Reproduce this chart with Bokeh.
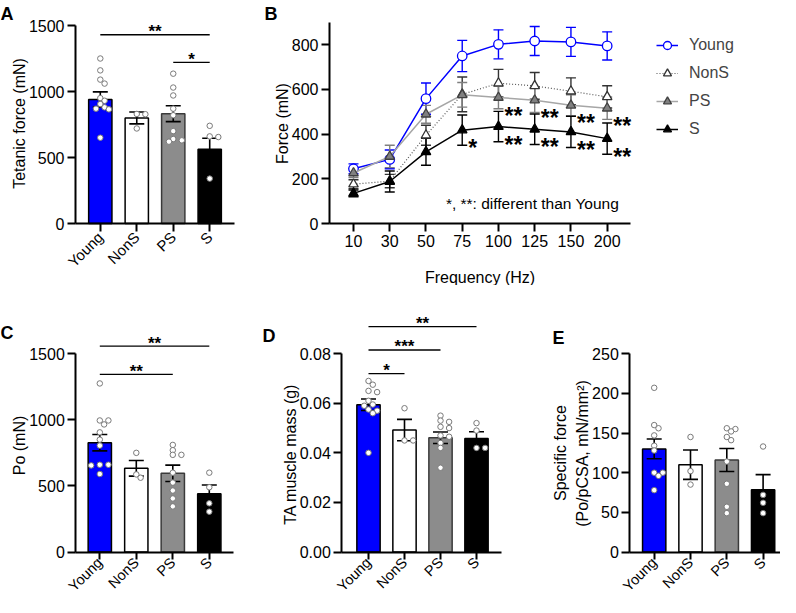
import math
from bokeh.plotting import figure
from bokeh.models import Range1d, FixedTicker, Legend, LegendItem, NumeralTickFormatter
from bokeh.layouts import row, column
from bokeh.embed import file_html
from bokeh.resources import INLINE
from bokeh.core.properties import value

FONT = "Liberation Sans"
GROUPS = ["Young", "NonS", "PS", "S"]
BAR_FILL = ["#0000FF", "#FFFFFF", "#8C8C8C", "#000000"]
BAR_LINE = ["#000000", "#000000", "#3A3A3A", "#000000"]

# ---------------- Panel A: tetanic force ----------------
A_mean = [940, 800, 832, 563]
A_sem = [57, 45, 60, 83]
A_pts = [
    [1250, 1160, 1090, 1060, 950, 930, 905, 880, 870, 865, 650],
    [830, 828, 720],
    [1135, 1030, 970, 870, 820, 700, 640, 630, 620],
    [740, 660, 655, 340],
]
A_sig = [(0, 3, 1430, "**"), (2, 3, 1220, "*")]
A_yticks = [0, 500, 1000, 1500]
A_ylabel = "Tetanic force (mN)"

# ---------------- Panel B: force-frequency ----------------
B_freq = ["10", "30", "50", "75", "100", "125", "150", "200"]
B_young = [245, 287, 559, 750, 802, 817, 813, 795]
B_young_sem = [22, 42, 70, 70, 65, 65, 65, 63]
B_nons = [176, 190, 395, 578, 628, 616, 592, 567]
B_nons_sem = [20, 30, 45, 78, 62, 60, 60, 50]
B_ps = [226, 300, 489, 576, 564, 552, 529, 516]
B_ps_sem = [20, 50, 40, 55, 50, 55, 47, 50]
B_s = [135, 188, 321, 418, 434, 422, 410, 380]
B_s_sem = [15, 47, 60, 68, 68, 68, 70, 70]
B_yticks = [0, 200, 400, 600, 800]
B_sig = [("S", 3, "*"), ("PS", 4, "**"), ("PS", 5, "**"), ("PS", 6, "**"), ("PS", 7, "**"),
         ("S", 4, "**"), ("S", 5, "**"), ("S", 6, "**"), ("S", 7, "**")]
B_note = "*, **: different than Young"
B_ylabel = "Force (mN)"
B_xlabel = "Frequency (Hz)"

# ---------------- Panel C: Po ----------------
C_mean = [827, 633, 595, 441]
C_sem = [62, 59, 62, 66]
C_pts = [
    [1275, 995, 995, 965, 905, 850, 805, 660, 660, 655, 590],
    [750, 587, 562],
    [810, 770, 735, 735, 600, 525, 465, 405, 345],
    [600, 490, 368, 305],
]
C_sig = [(0, 3, 1558, "**"), (0, 2, 1344, "**")]
C_yticks = [0, 500, 1000, 1500]
C_ylabel = "Po (mN)"

# ---------------- Panel D: TA mass ----------------
D_mean = [0.0594, 0.0492, 0.0461, 0.0458]
D_sem = [0.0023, 0.0043, 0.0023, 0.0027]
D_pts = [
    [0.069, 0.0675, 0.065, 0.0645, 0.061, 0.0595, 0.059, 0.0575, 0.057, 0.056, 0.040],
    [0.058, 0.045, 0.045],
    [0.055, 0.053, 0.0525, 0.0505, 0.050, 0.047, 0.0465, 0.044, 0.042, 0.034],
    [0.052, 0.049, 0.042, 0.042],
]
D_sig = [(0, 3, 0.0909, "**"), (0, 2, 0.0815, "***"), (0, 1, 0.072, "*")]
D_yticks = [0, 0.02, 0.04, 0.06, 0.08]
D_ylabel = "TA muscle mass (g)"

# ---------------- Panel E: specific force ----------------
E_mean = [130, 110, 116, 78.5]
E_sem = [12.5, 18.5, 14.5, 19]
E_pts = [
    [207, 160, 156, 147, 134, 128, 100, 100, 96, 78],
    [145, 102, 85],
    [155, 156, 152, 141, 145, 114, 86, 57, 49],
    [133, 72, 62, 49],
]
E_sig = []
E_yticks = [0, 50, 100, 150, 200, 250]
E_ylabel = ["Specific force", "(Po/pCSA, mN/mm\u00b2)"]


class Frame:
    """Maps page pixels to data units for one figure (layout helper)."""
    def __init__(self, fx, fy, w, h, x0px, xs, y0px, ys):
        self.fx, self.fy, self.w, self.h = fx, fy, w, h
        self.x0px, self.xs, self.y0px, self.ys = x0px, xs, y0px, ys

    def X(self, px):
        return (px - self.x0px) / self.xs

    def Y(self, py):
        return (self.y0px - py) / self.ys

    def figure(self):
        p = figure(width=self.w, height=self.h, min_border=0,
                   x_range=Range1d(self.X(self.fx), self.X(self.fx + self.w)),
                   y_range=Range1d(self.Y(self.fy + self.h), self.Y(self.fy)),
                   toolbar_location=None, output_backend="svg", tools="")
        p.grid.visible = False
        p.outline_line_color = None
        return p


def swarm(vals, px_y, px_x, step=4.3, dist=4.6):
    order = sorted(range(len(vals)), key=lambda i: -vals[i])
    placed = []
    offs = [0.0] * len(vals)
    cands = [0.0]
    for m in range(1, 6):
        cands += [m * step, -m * step]
    for i in order:
        y = vals[i] * px_y
        chosen = cands[-1]
        for c in cands:
            if all((c - qx) ** 2 + (y - qy) ** 2 >= dist ** 2 for qx, qy in placed):
                chosen = c
                break
        placed.append((chosen, y))
        offs[i] = chosen / px_x
    return offs


def style_axes(p):
    for ax in p.axis:
        ax.axis_line_width = 2
        ax.axis_line_color = "black"
        ax.major_tick_line_width = 2
        ax.major_tick_line_color = "black"
        ax.major_tick_out = 8
        ax.major_tick_in = 0
        ax.minor_tick_line_color = None
        ax.major_label_text_font = FONT
        ax.major_label_text_font_size = "16px"
        ax.major_label_text_color = "black"
        ax.major_label_standoff = 3


def put_text(p, fr, txt, px, py, size="16px", bold=False, angle=0.0, align="center", baseline="middle"):
    p.text(x=[fr.X(px)], y=[fr.Y(py)], text=[txt], angle=angle, text_align=align,
           text_baseline=baseline, text_font=value(FONT), text_font_size=size,
           text_font_style="bold" if bold else "normal", text_color="black")


def bar_panel(fr, ax_left, ax_right, means, sems, pts, sig, yticks, ytop,
              letter, letter_xy, ylabels, fmt=None, xlab_size="15px", xlab_standoff=3, tick_out=8):
    p = fr.figure()
    xs = list(range(len(GROUPS)))
    p.vbar(x=xs, top=means, bottom=0, width=23.3 / fr.xs, fill_color=BAR_FILL,
           line_color=BAR_LINE, line_width=1.5)
    cap = 7.5 / fr.xs
    up = [m + s for m, s in zip(means, sems)]
    lo = [m - s for m, s in zip(means, sems)]
    p.segment(x0=xs, y0=lo, x1=xs, y1=up, line_color="black", line_width=1.6)
    p.segment(x0=[x - cap for x in xs], y0=up, x1=[x + cap for x in xs], y1=up,
              line_color="black", line_width=1.6)
    p.segment(x0=[x - cap for x in xs], y0=lo, x1=[x + cap for x in xs], y1=lo,
              line_color="black", line_width=1.6)
    for i, vals in enumerate(pts):
        offs = swarm(vals, fr.ys, fr.xs)
        p.scatter(x=[i + o for o in offs], y=vals, size=5.5, marker="circle",
                  fill_color="white", line_color="#7A7A7A", line_width=1)
    for (i, j, yv, s) in sig:
        p.segment(x0=[i], y0=[yv], x1=[j], y1=[yv], line_color="black", line_width=1.3)
        p.text(x=[(i + j) / 2], y=[yv], text=[s], text_align="center",
               text_baseline="alphabetic", y_offset=-3, text_font=value(FONT),
               text_font_size="17px", text_font_style="bold", text_color="black")
    p.xaxis.ticker = FixedTicker(ticks=xs)
    p.xaxis.major_label_overrides = {i: g for i, g in enumerate(GROUPS)}
    p.xaxis.fixed_location = 0
    p.xaxis.bounds = (fr.X(ax_left), fr.X(ax_right))
    p.yaxis.ticker = FixedTicker(ticks=yticks)
    p.yaxis.fixed_location = fr.X(ax_left)
    p.yaxis.bounds = (0, ytop)
    if fmt is not None:
        p.yaxis.formatter = fmt
    style_axes(p)
    p.xaxis.major_label_orientation = math.pi / 4
    p.xaxis.major_label_text_font_size = xlab_size
    p.xaxis.major_label_standoff = xlab_standoff
    p.xaxis.major_tick_out = tick_out
    put_text(p, fr, letter, letter_xy[0], letter_xy[1], size="18px", bold=True,
             align="left", baseline="alphabetic")
    for (txt, lx, ly) in ylabels:
        put_text(p, fr, txt, lx, ly, angle=math.pi / 2)
    return p


# ---------------- frames (page pixel layout) ----------------
frA = Frame(8, 8, 244, 285, 107.8, 36.47, 231, 198 / 1500)
frB = Frame(252, 8, 536, 285, 361, 36.24, 231, 178.7 / 800)
frC = Frame(8, 293, 243, 312, 107.3, 36.5, 559.5, 198.3 / 1500)
frD = Frame(251, 293, 269, 312, 376, 36.0, 559.5, 198.3 / 0.08)
frE = Frame(520, 293, 268, 312, 661.7, 36.3, 559.5, 198.3 / 250)

pA = bar_panel(frA, 83, 242, A_mean, A_sem, A_pts, A_sig, A_yticks, 1500,
               "A", (8, 21), [(A_ylabel, 26.5, 131)])
pC = bar_panel(frC, 83.3, 240.7, C_mean, C_sem, C_pts, C_sig, C_yticks, 1500,
               "C", (8, 340), [(C_ylabel, 26.5, 453)],
               xlab_size="14.5px", xlab_standoff=1, tick_out=7)
pD = bar_panel(frD, 349.3, 509.3, D_mean, D_sem, D_pts, D_sig, D_yticks, 0.08,
               "D", (270, 343), [(D_ylabel, 297.5, 461.7)],
               fmt=NumeralTickFormatter(format="0.00"),
               xlab_size="14.5px", xlab_standoff=1, tick_out=7)
pE = bar_panel(frE, 637.3, 787.5, E_mean, E_sem, E_pts, E_sig, E_yticks, 250,
               "E", (560, 345), [(E_ylabel[0], 568, 460.5), (E_ylabel[1], 589.5, 461)],
               xlab_size="14.5px", xlab_standoff=1, tick_out=7)

# ---------------- Panel B ----------------
pB = frB.figure()
bx = list(range(len(B_freq)))
series = [
    ("Young", B_young, B_young_sem, "#0000FF", "solid", 1.5, "circle", "white", "#0000FF", "#0000FF"),
    ("NonS", B_nons, B_nons_sem, "#555555", "1 2", 1.2, "triangle", "white", "#333333", "#333333"),
    ("PS", B_ps, B_ps_sem, "#A6A6A6", "solid", 1.5, "triangle", "#808080", "#404040", "#7F7F7F"),
    ("S", B_s, B_s_sem, "#000000", "solid", 1.5, "triangle", "#000000", "#000000", "#000000"),
]
capB = 5.0 / frB.xs
for name, m, s, lc, dash, lw, mk, fc, mlc, ec in series:
    up = [a + b for a, b in zip(m, s)]
    lo = [a - b for a, b in zip(m, s)]
    pB.segment(x0=bx, y0=lo, x1=bx, y1=up, line_color=ec, line_width=1.4)
    pB.segment(x0=[x - capB for x in bx], y0=up, x1=[x + capB for x in bx], y1=up, line_color=ec, line_width=1.4)
    pB.segment(x0=[x - capB for x in bx], y0=lo, x1=[x + capB for x in bx], y1=lo, line_color=ec, line_width=1.4)
items = []
means_by_name = {}
for name, m, s, lc, dash, lw, mk, fc, mlc, ec in series:
    means_by_name[name] = m
    lr = pB.line(x=bx, y=m, line_color=lc, line_dash=dash, line_width=lw)
    sr = pB.scatter(x=bx, y=m, marker=mk, size=9.5, fill_color=fc, line_color=mlc, line_width=1.3)
    items.append(LegendItem(label=name, renderers=[lr, sr]))
for name, idx, s in B_sig:
    pB.text(x=[idx], y=[means_by_name[name][idx]], text=[s], text_align="left",
            text_baseline="middle", x_offset=6, y_offset=18, text_font=value(FONT),
            text_font_size="23px", text_font_style="bold", text_color="black")
put_text(pB, frB, B_note, 540, 210.5, size="15.5px")
put_text(pB, frB, B_ylabel, 290, 131, angle=math.pi / 2)
put_text(pB, frB, B_xlabel, 487.5, 285)
put_text(pB, frB, "B", 272, 21, size="18px", bold=True, align="left", baseline="alphabetic")
legend = Legend(items=items, location=(664 - 252, 293 - 33.3 - 104 - 9.3), orientation="vertical",
                border_line_color=None, background_fill_alpha=0,
                label_text_font=FONT, label_text_font_size="16px",
                glyph_width=22, glyph_height=20, spacing=8, padding=0, margin=0,
                label_standoff=11)
pB.add_layout(legend)
pB.xaxis.ticker = FixedTicker(ticks=bx)
pB.xaxis.major_label_overrides = {i: f for i, f in enumerate(B_freq)}
pB.xaxis.fixed_location = 0
pB.xaxis.bounds = (frB.X(337), frB.X(638))
pB.yaxis.ticker = FixedTicker(ticks=B_yticks)
pB.yaxis.fixed_location = frB.X(337)
pB.yaxis.bounds = (0, 900)
style_axes(pB)

layout = column(row(pA, pB), row(pC, pD, pE))
open("out.html", "w").write(file_html(layout, INLINE))
